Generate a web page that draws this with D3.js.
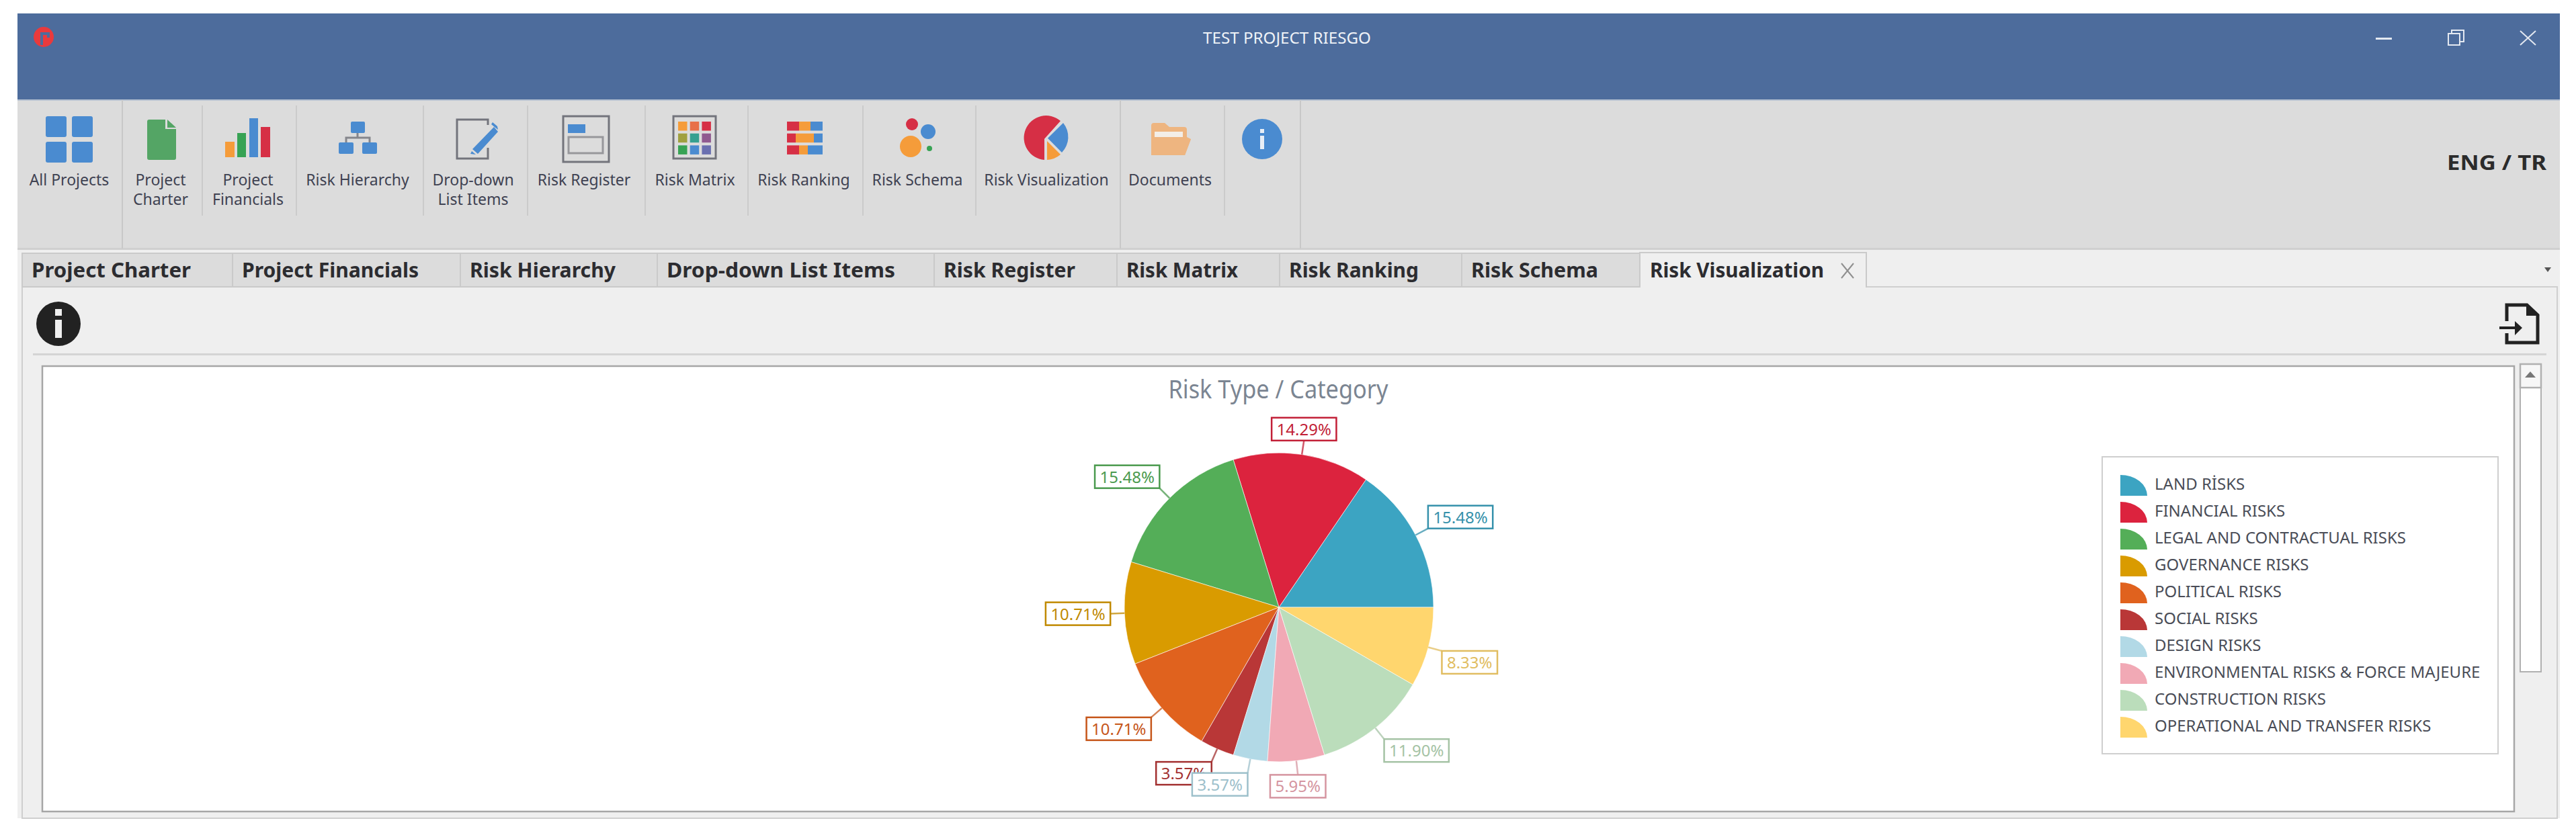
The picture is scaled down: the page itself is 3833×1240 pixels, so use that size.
<!DOCTYPE html>
<html>
<head>
  <meta charset="utf-8">
  <title>Risk Type / Category</title>
  <style>
    body { margin: 0; background: #fff; }
    svg { display: block; }
    text { font-family: "Noto Sans", sans-serif; }
  </style>
</head>
<body>
  <svg width="3833" height="1240"></svg>
  <script src="https://d3js.org/d3.v7.min.js"></script>
  <script>
    // chart data
    const categories = ["LAND RİSKS", "FINANCIAL RISKS", "LEGAL AND CONTRACTUAL RISKS", "GOVERNANCE RISKS", "POLITICAL RISKS",
      "SOCIAL RISKS", "DESIGN RISKS", "ENVIRONMENTAL RISKS & FORCE MAJEURE", "CONSTRUCTION RISKS", "OPERATIONAL AND TRANSFER RISKS"];
    const shares = [15.48, 14.29, 15.48, 10.71, 10.71, 3.57, 3.57, 5.95, 11.90, 8.33];
    const sliceColors = ["#3ca4c2", "#dc233e", "#54ae58", "#d99b00", "#e0621e", "#b93737", "#b2d9e6", "#f1a9b5", "#bbddbb", "#ffd66e"];

    // application chrome text
    const ribbonLabels = [["All Projects"], ["Project", "Charter"], ["Project", "Financials"], ["Risk Hierarchy"], ["Drop-down", "List Items"],
      ["Risk Register"], ["Risk Matrix"], ["Risk Ranking"], ["Risk Schema"], ["Risk Visualization"], ["Documents"]];
    const ribbonCenters = [103, 239, 369, 532, 704, 869, 1034, 1196, 1365, 1557, 1741];
    const ribbonDividers = [300, 440, 629, 784, 959, 1112, 1283, 1451, 1821];
    const ribbonGroups = [181, 1666, 1934];
    const tabLabels = ["Project Charter", "Project Financials", "Risk Hierarchy", "Drop-down List Items", "Risk Register", "Risk Matrix", "Risk Ranking", "Risk Schema"];
    const tabEdges = [33, 346, 685, 978, 1390, 1662, 1904, 2175, 2440];
    const tabTextWidths = [237, 263, 217, 340, 196, 166, 193, 189];

    const svg = d3.select("svg");
    const blue = "#4a8bd0", red = "#d62f45", orange = "#f59c3a", green = "#37a354", frame = "#73747c";

    function box(g, x, y, w, h, fill, extra) {
      const r = g.append("rect").attr("x", x).attr("y", y).attr("width", w).attr("height", h).attr("fill", fill);
      if (extra) Object.keys(extra).forEach(function(k) { r.attr(k, extra[k]); });
      return r;
    }
    function label(g, str, x, y, size, fill, anchor, weight, width) {
      const t = g.append("text").attr("x", x).attr("y", y).attr("font-size", size).attr("fill", fill)
        .attr("text-anchor", anchor || "start").attr("font-weight", weight || 400).text(str);
      if (width) t.attr("textLength", width).attr("lengthAdjust", "spacingAndGlyphs");
      return t;
    }

    // window frame
    const win = svg.append("g");
    box(win, 26, 20, 3783, 1198, "#efefef");
    box(win, 26, 20, 3783, 129, "#4d6c9c");
    box(win, 26, 149, 3783, 221, "#dcdcdc");
    box(win, 26, 148, 3783, 2, "#b9c3d2");
    box(win, 26, 369, 3783, 3, "#d0d0d0");
    win.append("circle").attr("cx", 65).attr("cy", 55).attr("r", 15).attr("fill", "#e93a3d");
    win.append("path").attr("d", "M62 67V50H72V56").attr("fill", "none").attr("stroke", "#4d6c9c").attr("stroke-width", 4);
    label(win, "TEST PROJECT RIESGO", 1915, 65, 23, "#eef2f7", "middle", 400, 250);

    // window buttons
    box(win, 3535, 56, 24, 3, "#e4e9f1");
    box(win, 3643, 50, 17, 17, "none", {stroke: "#e4e9f1", "stroke-width": 2});
    win.append("path").attr("d", "M3648 50V45H3666V62H3660").attr("fill", "none").attr("stroke", "#e4e9f1").attr("stroke-width", 2);
    win.append("path").attr("d", "M3750 46L3773 67M3773 46L3750 67").attr("stroke", "#e4e9f1").attr("stroke-width", 2);
    label(win, "ENG / TR", 3641, 253, 31, "#2b2b2b", "start", 700, 148);

    // ribbon
    const ribbon = svg.append("g");
    ribbonDividers.forEach(function(x) { box(ribbon, x, 157, 2, 164, "#cbcbcb"); });
    ribbonGroups.forEach(function(x) { box(ribbon, x, 149, 2, 221, "#c8c8c8"); });
    ribbonLabels.forEach(function(lines, i) {
      lines.forEach(function(line, j) {
        label(ribbon, line, ribbonCenters[i], 276 + j * 29, 23, "#3f4252", "middle");
      });
    });

    // ribbon icons
    [[68, 173], [107, 173], [68, 211], [107, 211]].forEach(function(p) { box(ribbon, p[0], p[1], 31, 31, blue, {rx: 3}); });
    ribbon.append("path").attr("d", "M222 178H246V192H262V235Q262 238 259 238H222Q219 238 219 235V181Q219 178 222 178Z").attr("fill", "#54a565");
    ribbon.append("path").attr("d", "M249 178L262 190H249Z").attr("fill", "#54a565");
    box(ribbon, 335, 211, 14, 23, orange);
    box(ribbon, 353, 198, 13, 36, green);
    box(ribbon, 371, 176, 13, 58, blue);
    box(ribbon, 388, 189, 14, 45, red);
    box(ribbon, 522, 181, 21, 17, blue, {rx: 2});
    box(ribbon, 504, 212, 22, 17, blue, {rx: 2});
    box(ribbon, 539, 212, 22, 17, blue, {rx: 2});
    ribbon.append("path").attr("d", "M532 198V205M515 212V205H550V212").attr("fill", "none").attr("stroke", "#85868c").attr("stroke-width", 3);
    ribbon.append("path").attr("d", "M726 186V178H680V236H726V220").attr("fill", "none").attr("stroke", frame).attr("stroke-width", 3);
    ribbon.append("path").attr("d", "M735 189L741 196L711 229L703 222ZM731 185L737 190L741 193L740 188L733 182ZM702 225L708 230L700 229Z").attr("fill", blue);
    box(ribbon, 838, 173, 68, 68, "none", {stroke: frame, "stroke-width": 3});
    box(ribbon, 845, 185, 26, 13, blue);
    box(ribbon, 846, 204, 51, 24, "none", {stroke: "#97979b", "stroke-width": 3});
    box(ribbon, 1002, 173, 63, 63, "none", {stroke: frame, "stroke-width": 3});
    const matrixColors = [[orange, "#e8714a", red], ["#a0a040", "#36a090", "#905a90"], [green, blue, "#6a70b0"]];
    matrixColors.forEach(function(row, r) {
      row.forEach(function(c, col) { box(ribbon, 1009 + col * 17.7, 181 + r * 17.7, 13.5, 13.5, c); });
    });
    [[[1171, 18, red], [1189, 17, orange], [1206, 18, blue]],
     [[1171, 13, red], [1184, 27, orange], [1211, 13, blue]],
     [[1171, 18, red], [1189, 13, orange], [1202, 22, blue]]].forEach(function(row, r) {
      row.forEach(function(s) { box(ribbon, s[0], 181 + r * 17.7, s[1], 13.5, s[2]); });
    });
    [[1357, 185, 9, red], [1381, 196, 11, blue], [1355, 218, 16, orange], [1383, 221, 4, green]].forEach(function(c) {
      ribbon.append("circle").attr("cx", c[0]).attr("cy", c[1]).attr("r", c[2]).attr("fill", c[3]);
    });
    ribbon.append("path").attr("d", "M1554 206.7V238A33 33 0 1 1 1578 180Z").attr("fill", red);
    ribbon.append("path").attr("d", "M1559 205.7L1582 183A33 33 0 0 1 1580 227Z").attr("fill", blue);
    ribbon.append("path").attr("d", "M1558 210V238A33 33 0 0 0 1578 230Z").attr("fill", orange);
    ribbon.append("path").attr("d", "M1713 231V187Q1713 183 1717 183H1733L1740 189H1762Q1766 189 1766 193V207H1772L1763 231Z").attr("fill", "#eeb580");
    box(ribbon, 1718, 196, 42, 8, "#f3eee8");
    ribbon.append("path").attr("d", "M1720 204H1766L1772 207L1763 231H1713V220Z").attr("fill", "#eeb580");
    ribbon.append("circle").attr("cx", 1878).attr("cy", 207).attr("r", 30).attr("fill", blue);
    box(ribbon, 1875, 202, 6, 20, "#e8eef6");
    box(ribbon, 1875, 192, 6, 6, "#e8eef6");

    // tabs
    const tabs = svg.append("g");
    box(tabs, 33, 427, 3772, 791, "#efefef", {stroke: "#cfcfcf", "stroke-width": 2});
    tabLabels.forEach(function(name, i) {
      box(tabs, tabEdges[i], 377, tabEdges[i + 1] - tabEdges[i], 50, "#dcdcdc", {stroke: "#cacaca", "stroke-width": 2});
      label(tabs, name, tabEdges[i] + 14, 413, 30, "#2c2c30", "start", 700, tabTextWidths[i]);
    });
    tabs.append("path").attr("d", "M2440 428V376H2777V428").attr("fill", "#efefef").attr("stroke", "#cacaca").attr("stroke-width", 2);
    box(tabs, 2441, 426, 335, 3, "#efefef");
    label(tabs, "Risk Visualization", 2455, 413, 30, "#2c2c30", "start", 700, 259);
    tabs.append("path").attr("d", "M2740 392L2758 414M2758 392L2740 414").attr("stroke", "#8f8f8f").attr("stroke-width", 2);
    tabs.append("path").attr("d", "M3786 398H3796L3791 405Z").attr("fill", "#555");

    // toolbar
    const bar = svg.append("g");
    bar.append("circle").attr("cx", 87).attr("cy", 482).attr("r", 33).attr("fill", "#222");
    box(bar, 82, 476, 10, 27, "#efefef");
    box(bar, 82, 460, 10, 10, "#efefef");
    box(bar, 49, 526, 3740, 3, "#d4d4d4");
    bar.append("path").attr("d", "M3730 478V454H3760L3776 469V510H3730V496").attr("fill", "none").attr("stroke", "#222").attr("stroke-width", 5);
    bar.append("path").attr("d", "M3760 454L3776 469H3760Z").attr("fill", "#222").attr("stroke", "#222").attr("stroke-width", 2);
    bar.append("path").attr("d", "M3719 488H3745").attr("stroke", "#222").attr("stroke-width", 4);
    bar.append("path").attr("d", "M3742 478L3753 488L3742 499Z").attr("fill", "#222");

    // scrollbar
    box(bar, 3750, 542, 31, 458, "#fff", {stroke: "#b0b0b0", "stroke-width": 2});
    box(bar, 3750, 542, 31, 35, "#f7f7f7", {stroke: "#b0b0b0", "stroke-width": 2.5});
    bar.append("path").attr("d", "M3757 562H3773L3765 553Z").attr("fill", "#777");

    // chart area
    const chart = svg.append("g");
    box(chart, 63, 545, 3678, 663, "#fff", {stroke: "#a6a6a6", "stroke-width": 2.5});
    label(chart, "Risk Type / Category", 1902, 593, 38, "#7b8592", "middle", 400, 327);

    const radius = 230, center = [1903, 904], leaderLen = 21;
    // slices run counterclockwise from 3 o'clock
    const pie = d3.pie().sort(null).startAngle(Math.PI / 2).endAngle(Math.PI / 2 - 2 * Math.PI);
    const arc = d3.arc().innerRadius(0).outerRadius(radius);
    const outer = d3.arc().innerRadius(radius).outerRadius(radius);
    const leaderEnd = d3.arc().innerRadius(radius + leaderLen).outerRadius(radius + leaderLen);
    const arcs = pie(shares);

    const pieG = chart.append("g").attr("transform", "translate(" + center[0] + "," + center[1] + ")");
    pieG.selectAll("path.slice").data(arcs).enter().append("path")
      .attr("class", "slice")
      .attr("d", arc)
      .attr("fill", function(d, i) { return sliceColors[i]; })
      .attr("stroke", "#fff")
      .attr("stroke-opacity", 0.6)
      .attr("stroke-width", 1);

    // labels: a box hung on the end of each leader line, centred when the leader is almost on an axis
    const pct = d3.format(".2f");
    const muted = function(i) { return d3.color(sliceColors[i]).darker(0.35).formatHex(); };
    const labelG = pieG.selectAll("g.lbl").data(arcs).enter().append("g").attr("class", "lbl");
    labelG.append("line")
      .attr("x1", function(d) { return outer.centroid(d)[0]; })
      .attr("y1", function(d) { return outer.centroid(d)[1]; })
      .attr("x2", function(d) { return leaderEnd.centroid(d)[0]; })
      .attr("y2", function(d) { return leaderEnd.centroid(d)[1]; })
      .attr("stroke", function(d, i) { return muted(i); })
      .attr("stroke-opacity", 0.75)
      .attr("stroke-width", 2.5);
    labelG.each(function(d, i) {
      const g = d3.select(this), end = leaderEnd.centroid(d);
      const rect = g.append("rect");
      const t = g.append("text").attr("font-size", 24).attr("fill", muted(i)).attr("text-anchor", "middle").text(pct(shares[i]) + "%");
      const w = t.node().getComputedTextLength() + 15, h = 34;
      const ux = end[0] / (radius + leaderLen), uy = end[1] / (radius + leaderLen);
      const near = Math.sin(10 * Math.PI / 180);
      const cx = end[0] + (Math.abs(ux) < near ? 0 : Math.sign(ux) * w / 2);
      const cy = end[1] + (Math.abs(uy) < near ? 0 : Math.sign(uy) * h / 2);
      rect.attr("x", cx - w / 2).attr("y", cy - h / 2).attr("width", w).attr("height", h)
        .attr("fill", "#fff").attr("stroke", muted(i)).attr("stroke-width", 2.5);
      t.attr("x", cx).attr("y", cy + 9);
    });

    // legend
    const legend = chart.append("g");
    box(legend, 3128, 680, 589, 442, "#fff", {stroke: "#cfcfcf", "stroke-width": 2});
    const marker = d3.arc().innerRadius(0).outerRadius(1).startAngle(0).endAngle(Math.PI / 2);
    const legendY = d3.scaleBand().domain(categories).range([707, 1107]);
    legend.selectAll("path").data(categories).enter().append("path")
      .attr("d", marker())
      .attr("transform", function(d) { return "translate(3155," + (legendY(d) + 31) + ") scale(40,31)"; })
      .attr("fill", function(d, i) { return sliceColors[i]; });
    legend.selectAll("text").data(categories).enter().append("text")
      .attr("x", 3206)
      .attr("y", function(d) { return legendY(d) + 22; })
      .attr("font-size", 24)
      .attr("fill", "#4a4d57")
      .text(function(d) { return d; });
  </script>
</body>
</html>
